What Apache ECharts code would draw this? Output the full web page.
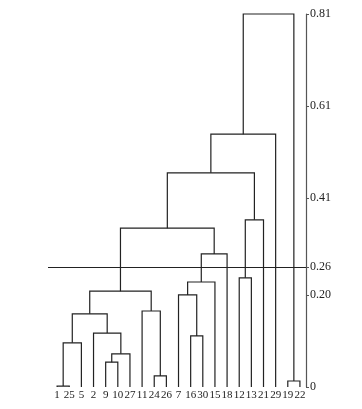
<!DOCTYPE html>
<html>
<head>
    <meta charset="utf-8">
    <title>Dendrogram</title>
    <script src="https://cdn.jsdelivr.net/npm/echarts@6/dist/echarts.min.js"></script>
    <style>
        html, body { margin: 0; padding: 0; background: #fff; }
    </style>
</head>
<body>
<div id="main" style="width: 362px;height:409px;"></div>
<script type="text/javascript">
    // leaf order along the bottom
    var leaves = ['1', '25', '5', '2', '9', '10', '27', '11', '24', '26', '7',
        '16', '30', '15', '18', '12', '13', '21', '29', '19', '22'];

    // merges: [node a, node b, height]; leaves are 0..20, merge k gets id 21 + k
    var merges = [
        [0, 1, 0.002],
        [4, 5, 0.054],
        [8, 9, 0.024],
        [19, 20, 0.013],
        [22, 6, 0.072],
        [21, 2, 0.096],
        [11, 12, 0.111],
        [3, 25, 0.117],
        [26, 28, 0.159],
        [7, 23, 0.165],
        [10, 27, 0.200],
        [29, 30, 0.208],
        [31, 13, 0.228],
        [15, 16, 0.237],
        [33, 14, 0.289],
        [32, 35, 0.345],
        [34, 17, 0.363],
        [36, 37, 0.465],
        [38, 18, 0.549],
        [39, 24, 0.81]
    ];

    var yTicks = [0, 0.20, 0.26, 0.41, 0.61, 0.81];
    var cutHeight = 0.26;

    // position / height of every node
    var nodeX = leaves.map(function (d, i) { return i; });
    var nodeH = leaves.map(function () { return 0; });
    var links = [];
    merges.forEach(function (m) {
        var a = m[0], b = m[1], h = m[2];
        links.push([nodeX[a], nodeH[a], nodeX[b], nodeH[b], h]);
        nodeX.push((nodeX[a] + nodeX[b]) / 2);
        nodeH.push(h);
    });

    var lineColor = '#222';
    var font = 'Liberation Serif';

    var myChart = echarts.init(document.getElementById('main'));
    myChart.setOption({
        animation: false,
        grid: { left: 48, right: 56, top: 14, bottom: 22 },
        xAxis: {
            type: 'value',
            min: -0.75,
            max: 20.5,
            splitLine: { show: false },
            axisLine: { show: false, onZero: false },
            axisTick: { show: false },
            axisLabel: {
                customValues: leaves.map(function (d, i) { return i; }),
                formatter: function (v) { return leaves[v]; },
                margin: 3,
                fontFamily: font,
                fontSize: 11,
                color: '#222'
            }
        },
        yAxis: {
            type: 'value',
            position: 'right',
            min: 0,
            max: 0.81,
            splitLine: { show: false },
            axisLine: { show: true, onZero: false, lineStyle: { color: '#555', width: 1.2 } },
            axisTick: {
                show: true,
                customValues: yTicks,
                length: 3,
                lineStyle: { color: '#555' }
            },
            axisLabel: {
                customValues: yTicks,
                formatter: function (v) { return v === 0 ? '0' : v.toFixed(2); },
                margin: 4,
                fontFamily: font,
                fontSize: 12,
                color: '#222'
            }
        },
        series: [{
            type: 'custom',
            data: links,
            encode: { x: [0, 2], y: [1, 3, 4] },
            renderItem: function (params, api) {
                var xa = api.value(0), ha = api.value(1);
                var xb = api.value(2), hb = api.value(3);
                var h = api.value(4);
                return {
                    type: 'polyline',
                    shape: {
                        points: [
                            api.coord([xa, ha]),
                            api.coord([xa, h]),
                            api.coord([xb, h]),
                            api.coord([xb, hb])
                        ]
                    },
                    style: { fill: 'none', stroke: lineColor, lineWidth: 1.2 }
                };
            },
            markLine: {
                silent: true,
                symbol: 'none',
                label: { show: false },
                lineStyle: { color: lineColor, width: 1.2, type: 'solid' },
                data: [{ yAxis: cutHeight }]
            }
        }]
    });
</script>
</body>
</html>
